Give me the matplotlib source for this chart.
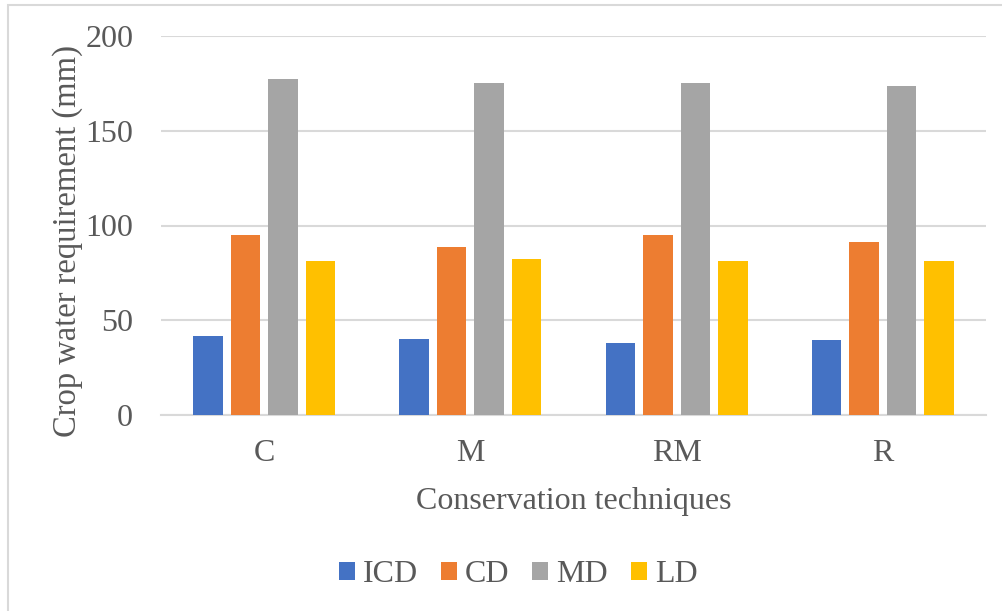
import numpy as np
import matplotlib
matplotlib.use("Agg")
import matplotlib.pyplot as plt
from matplotlib.patches import Rectangle

# crop water requirement (mm) per conservation technique
techniques = ["C", "M", "RM", "R"]
series = ["ICD", "CD", "MD", "LD"]
icd = [41.7, 39.9, 38.2, 39.8]
cd = [95.0, 88.5, 95.0, 91.1]
md = [177.5, 175.4, 175.4, 173.4]
ld = [81.1, 82.3, 81.1, 81.1]
colors = ["#4472C4", "#ED7D31", "#A5A5A5", "#FFC000"]

plt.rcParams['font.family'] = ['Liberation Serif', 'DejaVu Serif']
txt = "#595959"
fs = 23

fig = plt.figure(figsize=(10.02, 6.11), dpi=100)
ax = fig.add_axes([161/1002, 1 - 415/611, 825/1002, 379/611])

x = np.arange(len(techniques))
w = 0.143
step = 0.182
for i, (vals, name) in enumerate(zip([icd, cd, md, ld], series)):
    ax.bar(x + (i - 1.5) * step, vals, width=w, color=colors[i], label=name, zorder=3)

ax.set_xlim(-0.5, 3.5)
ax.set_ylim(0, 200)
ax.set_yticks([0, 50, 100, 150, 200])
ax.grid(axis='y', color='#D9D9D9', linewidth=1.5, zorder=0)
for s in ['top', 'right', 'left']:
    ax.spines[s].set_visible(False)
ax.spines['bottom'].set_color('#D9D9D9')
ax.spines['bottom'].set_linewidth(1.5)
ax.tick_params(axis='both', length=0, labelsize=fs, colors=txt)
ax.tick_params(axis='y', pad=20)
ax.tick_params(axis='x', pad=17)
ax.set_xticks(x)
ax.set_xticklabels(techniques)
ax.set_ylabel("Crop water requirement (mm)", fontsize=23.5, color=txt)
ax.yaxis.set_label_coords(-0.094, 0.46)
ax.set_xlabel("Conservation techniques", fontsize=fs, color=txt, labelpad=14)

leg = ax.legend(loc='center', bbox_to_anchor=(518/1002, 1 - 575/611),
                bbox_transform=fig.transFigure, ncol=4, frameon=False,
                fontsize=fs, handlelength=0.5, handleheight=0.5,
                columnspacing=0.72, handletextpad=0.25)
for t in leg.get_texts():
    t.set_color(txt)

# light frame around the chart area
fig.patches.append(Rectangle((8/1002, -0.01), 1.0, 1 - 5/611 + 0.01,
                             transform=fig.transFigure, fill=False,
                             edgecolor='#D9D9D9', linewidth=1.5))

fig.savefig("out.png", dpi=100)
